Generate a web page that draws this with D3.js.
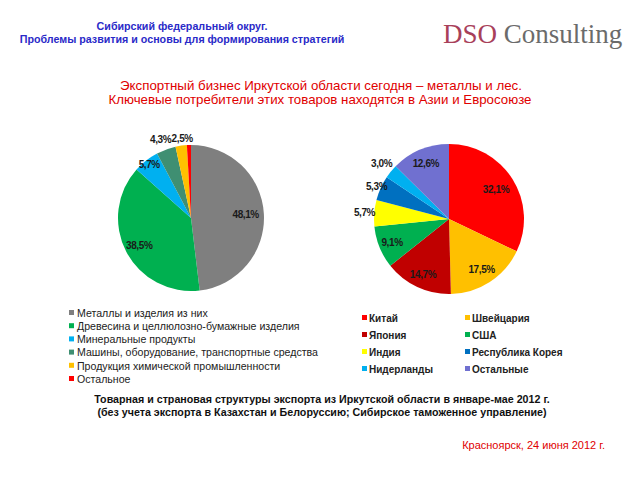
<!DOCTYPE html>
<html><head><meta charset="utf-8">
<script src="https://cdn.jsdelivr.net/npm/d3@7"></script>
<style>body{margin:0;background:#fff}svg{display:block}</style>
</head><body>
<script>
// Data
const goodsCategories = ["Металлы и изделия из них","Древесина и целлюлозно-бумажные изделия","Минеральные продукты","Машины, оборудование, транспортные средства","Продукция химической промышленности","Остальное"];
const goodsValues = [48.1, 38.5, 5.7, 4.3, 2.5, 0.9];
const goodsLabels = ["48,1%","38,5%","5,7%","4,3%","2,5%",""];
const countryCategories = ["Китай","Швейцария","Япония","США","Индия","Республика Корея","Нидерланды","Остальные"];
const countryValues = [32.1, 17.5, 14.7, 9.1, 5.7, 5.3, 3.0, 12.6];
const countryLabels = ["32,1%","17,5%","14,7%","9,1%","5,7%","5,3%","3,0%","12,6%"];
const countryLegendOrder = [0,1,2,3,4,5,6,7];

// Styles
const goodsColors = ["#7f7f7f","#00b050","#00b0f0","#3f8f72","#ffc000","#ff0000"];
const countryColors = ["#ff0000","#ffc000","#c00000","#00b050","#ffff00","#0070c0","#00b0f0","#7070d0"];
const goodsLabelR = [0.75,0.8,0.93,1.14,1.1,1.1];
const goodsLabelDx = [0,0,0,-2,2,0];
const countryLabelR = [0.74,0.8,0.82,0.82,1.13,1.06,1.16,0.8];
const countryLabelDx = [0,0,0,0,0,0,0,0];

const W=640,H=480;
const svg=d3.select("body").append("svg").attr("width",W).attr("height",H);
const F="'Liberation Sans', Arial, sans-serif";

// Header
svg.append("text").attr("x",182).attr("y",30).attr("text-anchor","middle")
  .attr("font-family",F).attr("font-size",10.7).attr("font-weight","bold").attr("fill","#2a2ac8")
  .text("Сибирский федеральный округ.");
svg.append("text").attr("x",182).attr("y",43).attr("text-anchor","middle")
  .attr("font-family",F).attr("font-size",10.7).attr("font-weight","bold").attr("fill","#2a2ac8")
  .text("Проблемы развития и основы для формирования стратегий");
const logo=svg.append("text").attr("x",443).attr("y",43)
  .attr("font-family","'Liberation Serif','DejaVu Serif',serif").attr("font-size",27);
logo.append("tspan").attr("fill","#a8405a").text("DSO ");
logo.append("tspan").attr("fill","#6b6b6b").text("Consulting");

// Title
svg.append("text").attr("x",321).attr("y",90).attr("text-anchor","middle")
  .attr("font-family",F).attr("font-size",13.3).attr("fill","#e00000")
  .text("Экспортный бизнес Иркутской области сегодня – металлы и лес.");
svg.append("text").attr("x",320).attr("y",104).attr("text-anchor","middle")
  .attr("font-family",F).attr("font-size",13.3).attr("fill","#e00000")
  .text("Ключевые потребители этих товаров находятся в Азии и Евросоюзе");

function drawPie(cx,cy,r,values,labels,colors,labelR,labelDx){
  const pie=d3.pie().sort(null).value(d=>d);
  const arcs=pie(values);
  const arc=d3.arc().innerRadius(0).outerRadius(r);
  const g=svg.append("g").attr("transform",`translate(${cx},${cy})`);
  g.selectAll("path").data(arcs).join("path").attr("d",arc).attr("fill",(d,i)=>colors[i]);
  g.selectAll("text").data(arcs).join("text")
    .attr("transform",(d,i)=>{
      const a=(d.startAngle+d.endAngle)/2, rr=r*labelR[i];
      return `translate(${Math.sin(a)*rr+labelDx[i]},${-Math.cos(a)*rr})`;})
    .attr("text-anchor","middle").attr("dy","0.35em")
    .attr("font-family",F).attr("font-size",10).attr("font-weight","bold").attr("fill","#1a1a1a")
    .attr("letter-spacing",-0.4)
    .text((d,i)=>labels[i]);
}
drawPie(191,218,73,goodsValues,goodsLabels,goodsColors,goodsLabelR,goodsLabelDx);
drawPie(449,219,75,countryValues,countryLabels,countryColors,countryLabelR,countryLabelDx);

// Left legend
const lg=svg.append("g");
goodsCategories.forEach((c,i)=>{
  const y=313+i*13.2;
  lg.append("rect").attr("x",69).attr("y",y-3).attr("width",5).attr("height",5).attr("fill",goodsColors[i]);
  lg.append("text").attr("x",77).attr("y",y).attr("dy","0.35em").attr("font-family",F)
    .attr("font-size",10.6).attr("fill","#222").text(c);
});
// Right legend
const rg=svg.append("g");
countryLegendOrder.forEach((idx,k)=>{
  const col=k%2,row=Math.floor(k/2);
  const x=col?465:362, y=318+row*17;
  rg.append("rect").attr("x",x).attr("y",y-3).attr("width",5).attr("height",5).attr("fill",countryColors[idx]);
  rg.append("text").attr("x",x+7).attr("y",y).attr("dy","0.35em").attr("font-family",F)
    .attr("font-size",10).attr("font-weight","bold").attr("fill","#222").text(countryCategories[idx]);
});

// Footnote
svg.append("text").attr("x",322).attr("y",403).attr("text-anchor","middle")
  .attr("font-family",F).attr("font-size",10.7).attr("font-weight","bold").attr("fill","#111")
  .text("Товарная и страновая структуры экспорта из Иркутской области в январе-мае 2012 г.");
svg.append("text").attr("x",322).attr("y",416).attr("text-anchor","middle")
  .attr("font-family",F).attr("font-size",10.7).attr("font-weight","bold").attr("fill","#111")
  .text("(без учета экспорта в Казахстан и Белоруссию; Сибирское таможенное управление)");
svg.append("text").attr("x",605).attr("y",449).attr("text-anchor","end")
  .attr("font-family",F).attr("font-size",11).attr("fill","#e00000")
  .text("Красноярск, 24 июня 2012 г.");
</script>
</body></html>
